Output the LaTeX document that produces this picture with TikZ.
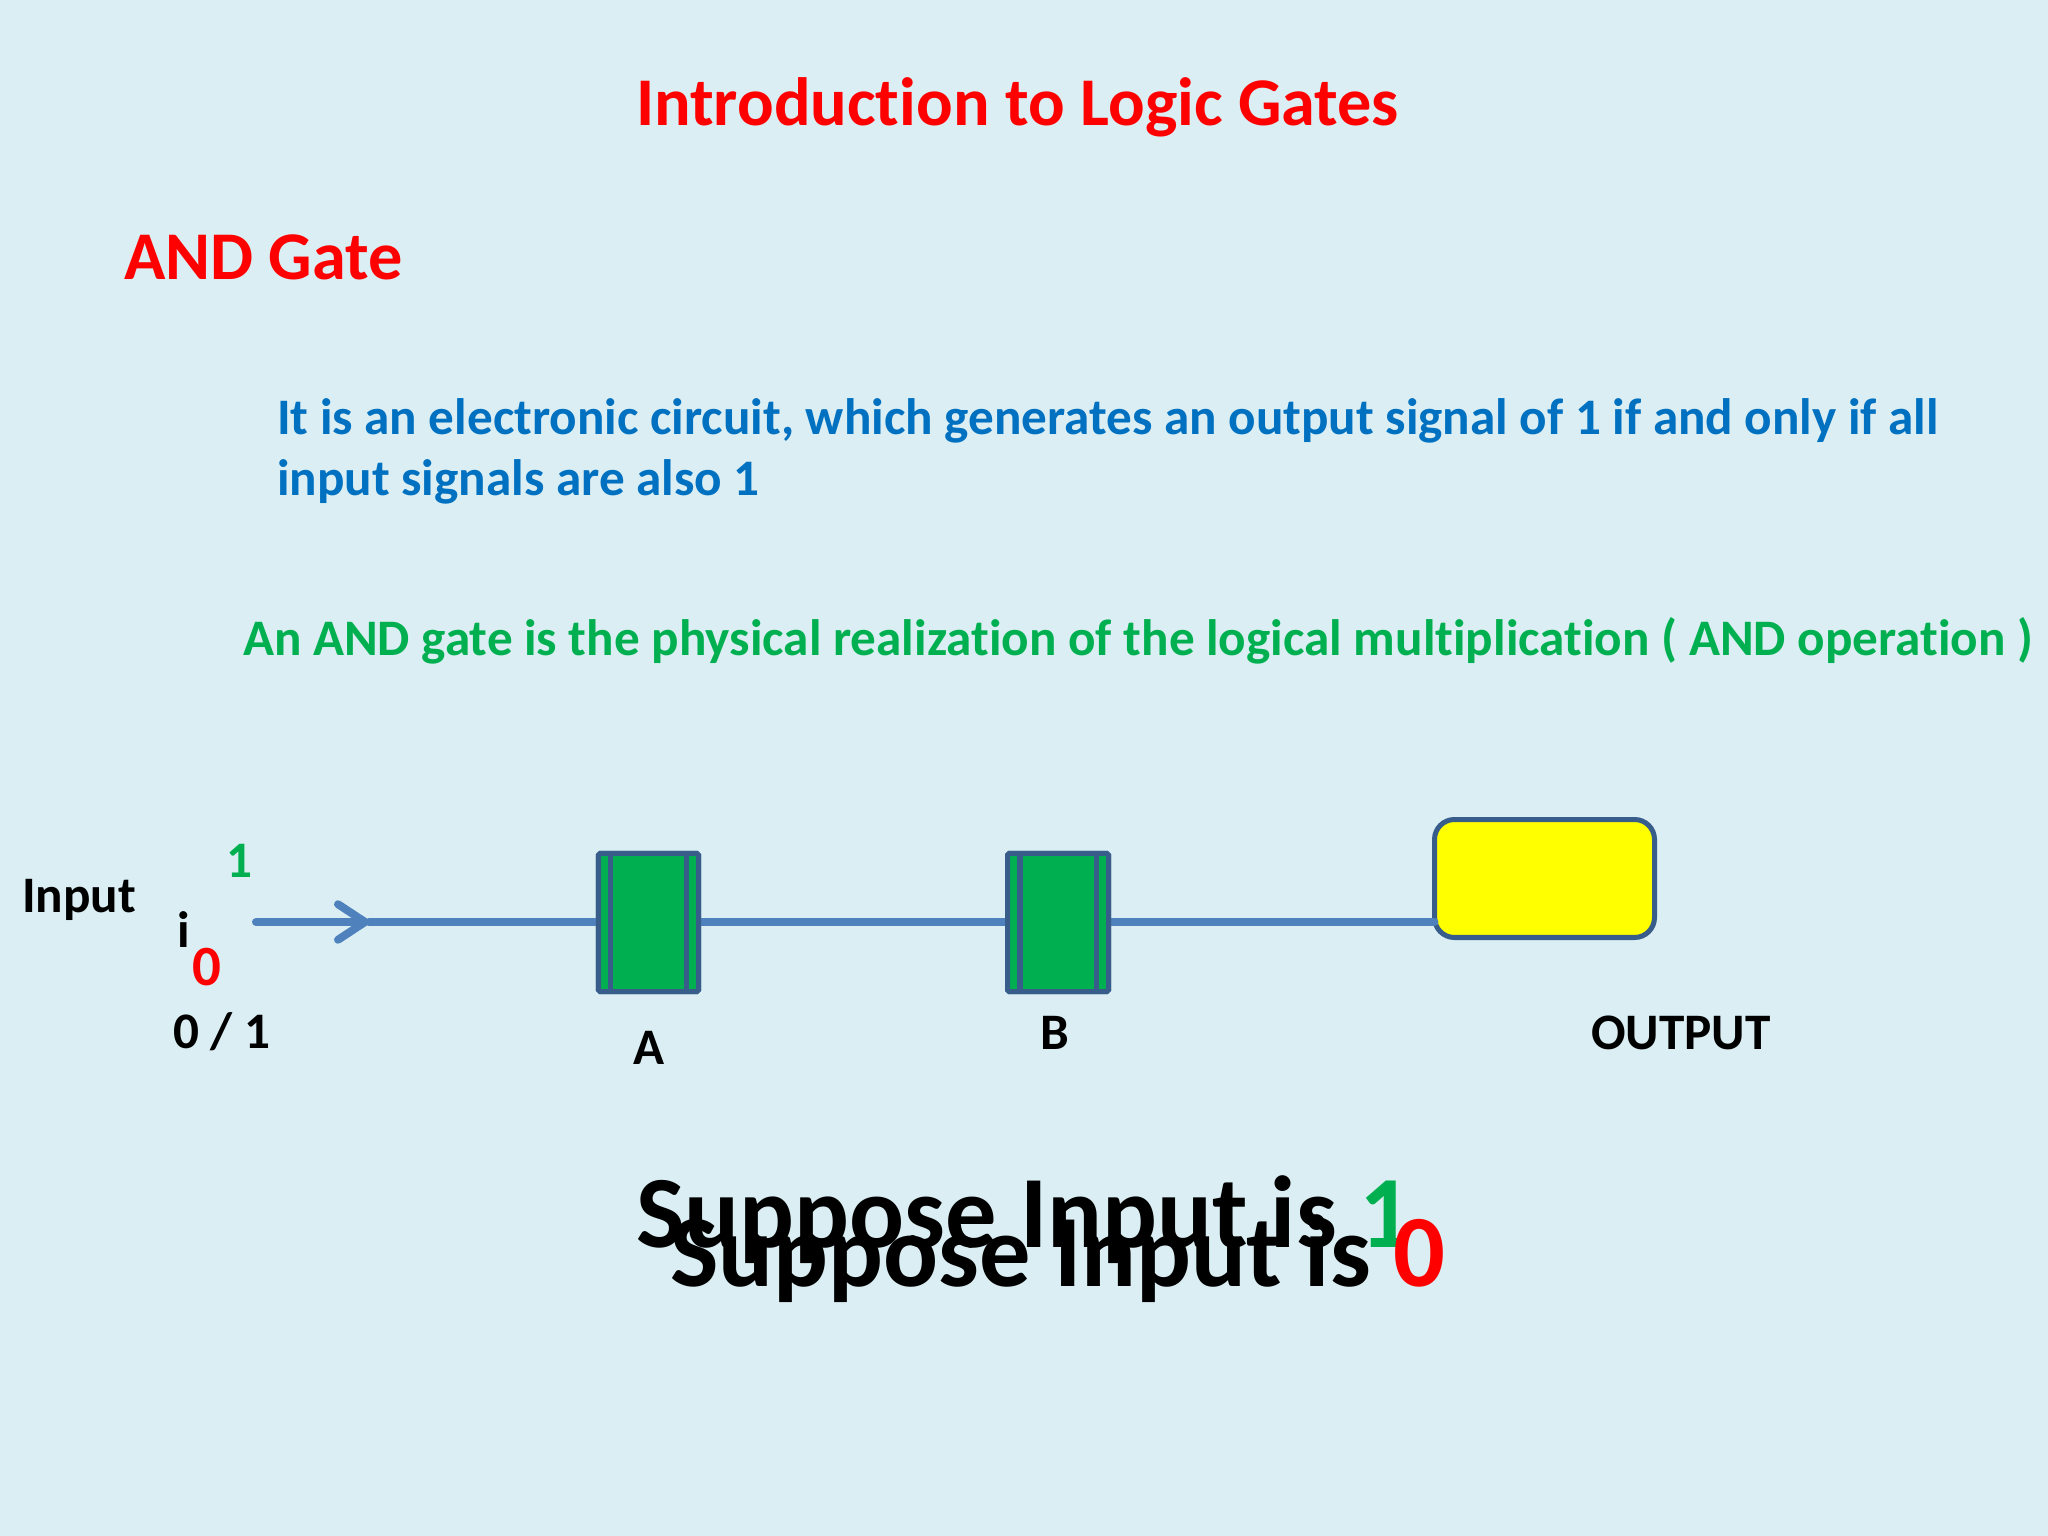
\documentclass[tikz,border=0pt]{standalone}
\usepackage{fontspec}
\setmainfont{Carlito}[Ligatures=CommonOff]
\usetikzlibrary{arrows.meta}
\definecolor{bgc}{HTML}{DAEEF3}
\definecolor{titlered}{HTML}{FF0000}
\definecolor{textblue}{HTML}{0070C0}
\definecolor{textgreen}{HTML}{00B050}
\definecolor{wirec}{HTML}{4F81BD}
\definecolor{edgec}{HTML}{385D8A}
\definecolor{fillyellow}{HTML}{FFFF00}
\tikzset{
  txt/.style={anchor=base west, inner sep=0pt, outer sep=0pt, font=\bfseries},
  sz18/.style={font=\fontsize{18}{21.6}\selectfont\bfseries},
  sz20/.style={font=\fontsize{20}{24}\selectfont\bfseries},
  sz24/.style={font=\fontsize{24}{29}\selectfont\bfseries},
  sz36/.style={font=\fontsize{36}{43}\selectfont\bfseries},
  wire/.style={draw=wirec, line width=2.8pt, line cap=round},
  gatebox/.style={draw=edgec, fill=textgreen, line width=1.76pt, rounded corners=0.6pt, inner sep=0pt, outer sep=0pt},
  gateline/.style={draw=edgec, line width=2pt},
  outbox/.style={draw=edgec, fill=fillyellow, line width=1.76pt, rounded corners=7pt, inner sep=0pt, outer sep=0pt, minimum width=77.34pt, minimum height=41.48pt},
}
\begin{document}
\begin{tikzpicture}[x=0.3515625pt, y=-0.3515625pt]
\fill[bgc] (0,0) rectangle (2048,1536);
\useasboundingbox (0,0) rectangle (2048,1536);

% headings
\node[txt, sz24, text=titlered] (title) at (636,126) {Introduction to Logic Gates};
\node[txt, sz24, text=titlered] (andgate) at (124,280) {AND Gate};

% description
\node[txt, sz18, text=textblue] (desc1) at (277,435) {It is an electronic circuit, which generates an output signal of 1 if and only if all};
\node[txt, sz18, text=textblue] (desc2) at (277,496) {input signals are also 1};
\node[txt, sz18, text=textgreen] (desc3) at (243,656) {An AND gate is the physical realization of the logical multiplication ( AND operation )};

% input labels
\node[txt, sz18] (inputlbl) at (22,912) {Input};
\node[txt, sz18, text=textgreen] (one) at (226,877) {1};
\node[txt, sz18] (ilbl) at (177,947) {i};
\node[txt, sz20, text=titlered] (zero) at (192,985) {0};
\node[txt, sz18] (zeroone) at (173,1048) {0 / 1};

% gates
\node[gatebox, minimum width=35.16pt, minimum height=48.52pt] (A) at (648.5,922.5) {};
\node[gatebox, minimum width=35.5pt, minimum height=48.52pt] (B) at (1058,922.5) {};
\node[outbox] (Y) at (1544.5,878.5) {};

\coordinate (in) at (256,922);
\coordinate (tip) at (369,922);

% wires
\draw[wire, -{Straight Barb[length=9.5pt, width=12.5pt, round]}] (in) -- (tip);
\draw[wire] (tip) -- (tip -| A.west);
\draw[wire] (A.east |- tip) -- (B.west |- tip);
\draw[wire] (B.east |- tip) -- (Y.west |- tip);

% gates redrawn on top so wire ends are hidden
\node[gatebox, minimum width=35.16pt, minimum height=48.52pt] at (A) {};
\node[gatebox, minimum width=35.5pt, minimum height=48.52pt] at (B) {};
\draw[gateline] ([xshift=4.2pt]A.north west) -- ([xshift=4.2pt]A.south west);
\draw[gateline] ([xshift=-4.2pt]A.north east) -- ([xshift=-4.2pt]A.south east);
\draw[gateline] ([xshift=4.4pt]B.north west) -- ([xshift=4.4pt]B.south west);
\draw[gateline] ([xshift=-4.2pt]B.north east) -- ([xshift=-4.2pt]B.south east);

% gate labels
\node[sz18, anchor=base, inner sep=0pt] (Alabel) at (649,1064) {A};
\node[sz18, anchor=base, inner sep=0pt] (Blabel) at (1055,1049) {B};
\node[txt, sz18] (outlabel) at (1591,1049) {OUTPUT};

% overlapping statements
\node[txt, sz36] (sup1) at (636,1247) {Suppose Input is \textcolor{textgreen}{1}};
\node[txt, sz36] (sup0) at (670,1286) {Suppose Input is \textcolor{titlered}{0}};
\end{tikzpicture}
\end{document}
